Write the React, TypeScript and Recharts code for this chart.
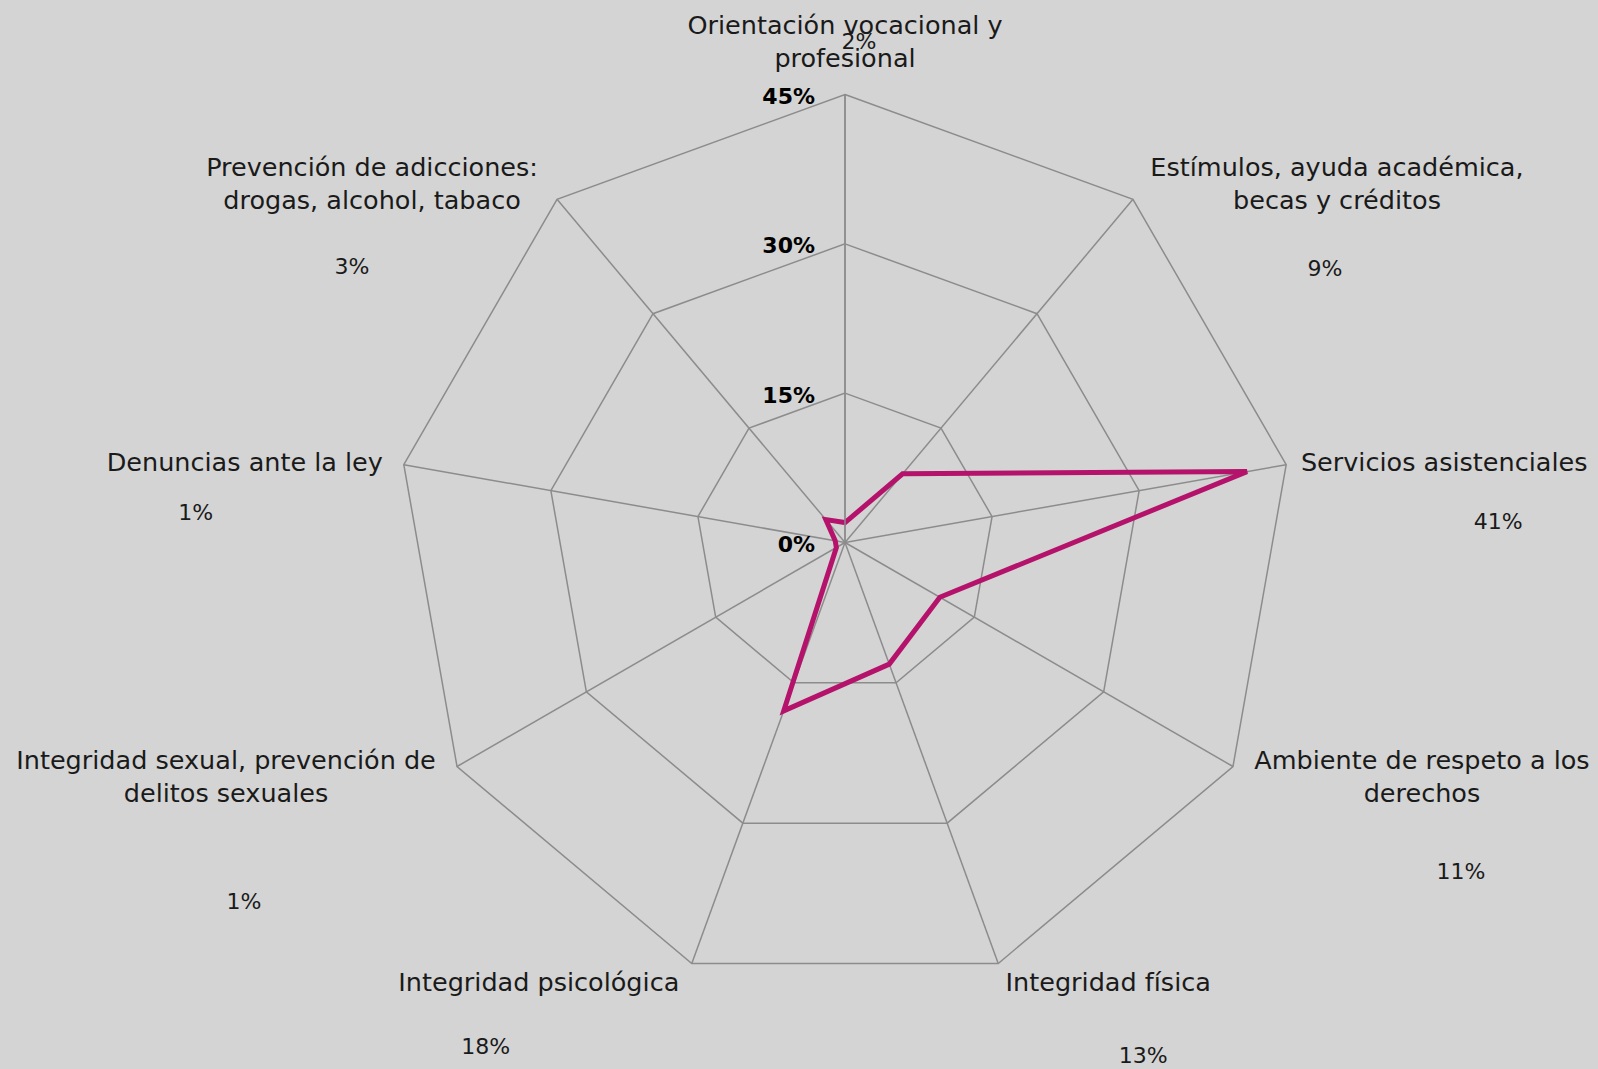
import React from "react";
import { RadarChart, Radar, PolarGrid, PolarAngleAxis, PolarRadiusAxis } from "recharts";

const categories: string[][] = [
  ["Orientación vocacional y", "profesional"],
  ["Estímulos, ayuda académica,", "becas y créditos"],
  ["Servicios asistenciales"],
  ["Ambiente de respeto a los", "derechos"],
  ["Integridad física"],
  ["Integridad psicológica"],
  ["Integridad sexual, prevención de", "delitos sexuales"],
  ["Denuncias ante la ley"],
  ["Prevención de adicciones:", "drogas, alcohol, tabaco"],
];
const values: number[] = [2, 9, 41, 11, 13, 18, 1, 1, 3];
const radiusTicks: number[] = [0, 15, 30, 45];

const data = categories.map((c, i) => ({ name: c.join(" "), value: values[i] }));

const W = 1598;
const H = 1069;
const CX = 845;
const CY = 542.5;
const R = 448;
const FONT = "'DejaVu Sans', sans-serif";

// label offsets relative to axis vertex: [nameDx, nameDy(first line), valueDx, valueDy]
const labelOffsets: number[][] = [
  [0, -70, 14, -53.5],
  [204, -32, 192, 69],
  [158, -3, 212, 57],
  [189, -6.5, 228, 104.5],
  [110, 18.5, 145, 92.5],
  [-153, 18.5, -206, 83.5],
  [-231, -6.5, -213, 134.5],
  [-159, -3, -208, 48],
  [-185, -32, -205, 67.5],
];

const AngleTick = (props: any) => {
  const idx = props.payload?.index ?? props.index ?? 0;
  const angle = (90 - idx * (360 / categories.length)) * Math.PI / 180;
  const vx = CX + R * Math.cos(angle);
  const vy = CY - R * Math.sin(angle);
  const [ndx, ndy, vdx, vdy] = labelOffsets[idx];
  const lines = categories[idx];
  return (
    <g>
      {lines.map((l, k) => (
        <text key={k} x={vx + ndx} y={vy + ndy + k * 33} textAnchor="middle" dominantBaseline="central"
          fontFamily={FONT} fontSize={25.5} fill="#1a1a1a">{l}</text>
      ))}
      <text x={vx + vdx} y={vy + vdy} textAnchor="middle" dominantBaseline="central"
        fontFamily={FONT} fontSize={22} fill="#1a1a1a">{`${values[idx]}%`}</text>
    </g>
  );
};

const RadiusTick = (props: any) => {
  const { x, y, payload } = props;
  return (
    <text x={x - 30} y={y + 2} textAnchor="end" dominantBaseline="central"
      fontFamily={FONT} fontSize={22} fontWeight="bold" fill="#000">{`${payload.value}%`}</text>
  );
};

export default function App() {
  return (
    <div style={{ position: "absolute", left: 0, top: 0, width: W, height: H, background: "#d4d4d4" }}>
      <RadarChart width={W} height={H} data={data} cx={CX} cy={CY} outerRadius={R}
        margin={{ top: 0, right: 0, bottom: 0, left: 0 }}>
        <PolarGrid gridType="polygon" stroke="#8c8c8c" strokeWidth={1.5} />
        <PolarAngleAxis dataKey="name" tick={<AngleTick />} tickLine={false} axisLine={false} />
        <PolarRadiusAxis angle={90} domain={[0, 45]} ticks={radiusTicks as any} tickCount={4}
          axisLine={{ stroke: "#8c8c8c", strokeWidth: 1.5 }} tick={<RadiusTick />} />
        <Radar dataKey="value" stroke="#b5136b" strokeWidth={5} fill="none" fillOpacity={0}
          dot={false} isAnimationActive={false} />
      </RadarChart>
    </div>
  );
}
